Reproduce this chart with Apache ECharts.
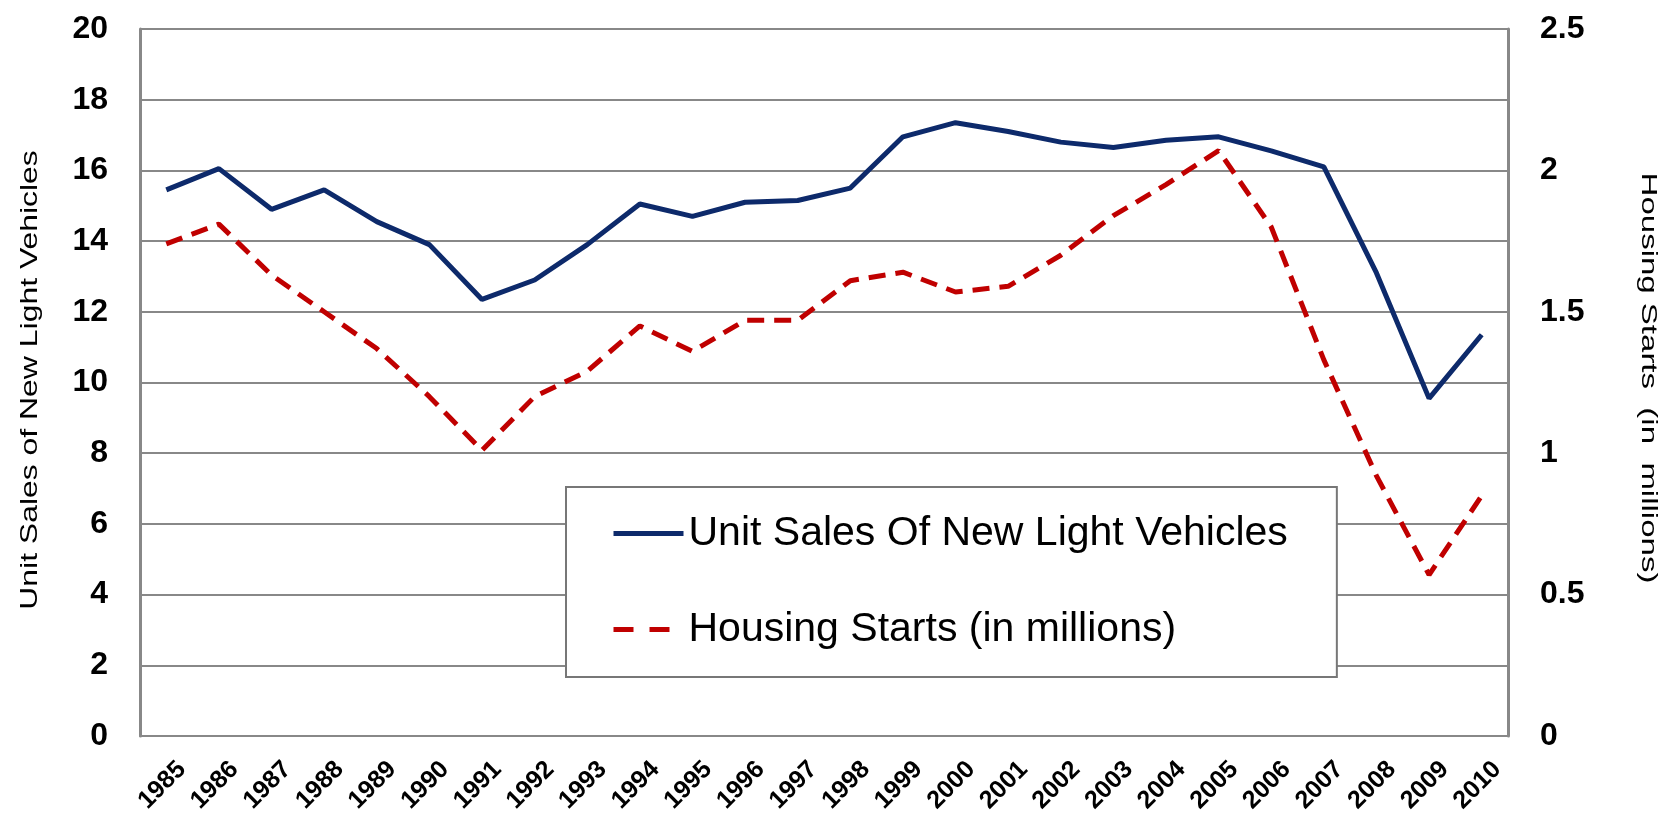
<!DOCTYPE html>
<html>
<head>
<meta charset="utf-8">
<script src="https://cdn.jsdelivr.net/npm/echarts@6/dist/echarts.min.js"></script>
<style>
  html, body { margin: 0; padding: 0; background: #fff; }
  #chart { width: 1677px; height: 835px; }
</style>
</head>
<body>
<div id="chart"></div>
<script>
  const years = ['1985', '1986', '1987', '1988', '1989', '1990', '1991', '1992', '1993', '1994',
    '1995', '1996', '1997', '1998', '1999', '2000', '2001', '2002', '2003', '2004',
    '2005', '2006', '2007', '2008', '2009', '2010']
  const vehicleSales = [15.45, 16.05, 14.9, 15.45, 14.55, 13.9, 12.35, 12.9, 13.9, 15.05,
    14.7, 15.1, 15.15, 15.5, 16.95, 17.35, 17.1, 16.8, 16.65, 16.85,
    16.95, 16.55, 16.1, 13.1, 9.55, 11.35]
  const housingStarts = [1.74, 1.81, 1.63, 1.5, 1.37, 1.2, 1.01, 1.2, 1.29, 1.45,
    1.36, 1.47, 1.47, 1.61, 1.64, 1.57, 1.59, 1.7, 1.84, 1.95,
    2.07, 1.8, 1.33, 0.92, 0.57, 0.85]

  const font = 'Liberation Sans, Arial, sans-serif'
  const gray = '#888888'
  const navy = '#0d2a6b'
  const red = '#c00000'

  const chart = echarts.init(document.getElementById('chart'))
  chart.setOption({
    animation: false,
    textStyle: { fontFamily: font },
    grid: { left: 140, right: 169, top: 29, bottom: 99 },
    // axis titles drawn as graphic text so they can be stretched like the original
    graphic: [
      {
        type: 'text',
        x: 30,
        y: 380,
        rotation: Math.PI / 2,
        scaleX: 1.33,
        style: {
          text: 'Unit Sales of New Light Vehicles',
          font: '24px ' + font,
          fill: '#000',
          align: 'center',
          verticalAlign: 'middle'
        }
      },
      {
        type: 'text',
        x: 1648,
        y: 378,
        rotation: -Math.PI / 2,
        scaleX: 1.5,
        style: {
          text: 'Housing Starts  (in  millions)',
          font: '22px ' + font,
          fill: '#000',
          align: 'center',
          verticalAlign: 'middle'
        }
      }
    ],
    legend: {
      orient: 'vertical',
      left: 566,
      top: 487,
      padding: [26, 49, 27, 45],
      itemGap: 55,
      itemWidth: 70,
      itemHeight: 14,
      backgroundColor: '#fff',
      borderColor: '#777',
      borderWidth: 2,
      itemStyle: { opacity: 0 },
      textStyle: { fontSize: 41, color: '#000', fontFamily: font },
      data: [
        { name: 'Unit Sales Of New Light Vehicles', lineStyle: { width: 5 } },
        { name: 'Housing Starts (in millions)', lineStyle: { width: 5, type: [20, 16] } }
      ]
    },
    xAxis: {
      type: 'category',
      data: years,
      axisLine: { lineStyle: { color: gray, width: 2 } },
      axisTick: { show: false },
      axisLabel: {
        rotate: 45,
        fontSize: 25,
        fontWeight: 'bold',
        color: '#000',
        verticalAlign: 'top',
        lineHeight: 44,
        margin: 14,
        interval: 0
      }
    },
    yAxis: [
      {
        type: 'value',
        min: 0,
        max: 20,
        interval: 2,
        axisLine: { show: true, lineStyle: { color: gray, width: 3 } },
        axisTick: { show: false },
        splitLine: { lineStyle: { color: gray, width: 2 } },
        axisLabel: { fontSize: 32, fontWeight: 'bold', color: '#000', margin: 32 }
      },
      {
        type: 'value',
        min: 0,
        max: 2.5,
        interval: 0.5,
        position: 'right',
        axisLine: { show: true, lineStyle: { color: gray, width: 3 } },
        axisTick: { show: false },
        splitLine: { show: false },
        axisLabel: { fontSize: 32, fontWeight: 'bold', color: '#000', margin: 32 }
      }
    ],
    series: [
      {
        name: 'Unit Sales Of New Light Vehicles',
        type: 'line',
        data: vehicleSales,
        yAxisIndex: 0,
        symbol: 'none',
        color: navy,
        lineStyle: { color: navy, width: 5 }
      },
      {
        name: 'Housing Starts (in millions)',
        type: 'line',
        data: housingStarts,
        yAxisIndex: 1,
        symbol: 'none',
        color: red,
        lineStyle: { color: red, width: 5, type: [17, 10] }
      }
    ]
  })
</script>
</body>
</html>
